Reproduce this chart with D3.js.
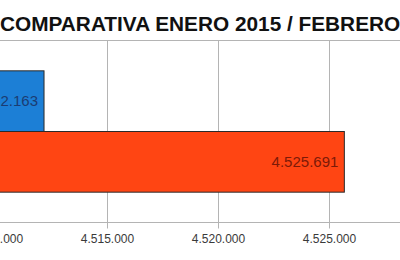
<!DOCTYPE html>
<html lang="es">
<head>
<meta charset="UTF-8">
<title>Comparativa enero 2015 / febrero</title>
<script src="https://d3js.org/d3.v7.min.js"></script>
<style>
  body { margin: 0; background: #fff; overflow: hidden; }
  svg { display: block; font-family: "Liberation Sans", Arial, sans-serif; }
</style>
</head>
<body>
<div id="chart"></div>
<script>
// datos
const periodos = ["Enero 2015", "Febrero"];
const valores = [4512163, 4525691];
const colores = ["#1c7fd6", "#ff4513"];
const colorTexto = ["#1b3c72", "#7c1a08"];
const ticks = [4510000, 4515000, 4520000, 4525000];

const w = 400, h = 260;
const yTop = 40, yBottom = 222;

const fmt = v => d3.format(",")(v).replace(/,/g, ".");

const svg = d3.select("#chart").append("svg")
  .attr("width", w).attr("height", h);

const x = d3.scaleLinear()
  .domain([4510000, 4530000])
  .range([-4, 440]);

const y = d3.scaleBand()
  .domain(periodos)
  .range([yTop, yBottom])
  .paddingInner(0)
  .paddingOuter(0.5);

// lineas de rejilla verticales
svg.append("g")
  .selectAll("line")
  .data(ticks)
  .join("line")
  .attr("x1", d => Math.round(x(d)) + 0.5)
  .attr("x2", d => Math.round(x(d)) + 0.5)
  .attr("y1", yTop)
  .attr("y2", yBottom + 6)
  .attr("stroke", "#b4b4b4");

// borde superior
svg.append("line")
  .attr("x1", 0).attr("x2", w)
  .attr("y1", yTop + 0.5).attr("y2", yTop + 0.5)
  .attr("stroke", "#b4b4b4");

// eje x
const xAxis = d3.axisBottom(x)
  .tickValues(ticks)
  .tickSize(6)
  .tickFormat(fmt);

const gx = svg.append("g")
  .attr("transform", "translate(0," + (yBottom + 0.5) + ")")
  .call(xAxis);
gx.select(".domain").attr("stroke", "#b4b4b4").attr("d", "M0,0H" + w);
gx.selectAll(".tick line").attr("stroke", "#b4b4b4");
gx.selectAll(".tick text")
  .attr("y", 12)
  .attr("fill", "#3a3a3a")
  .style("font-size", "12px")
  .style("font-family", "'Liberation Sans', Arial, sans-serif");

// barras
svg.append("g")
  .selectAll("rect")
  .data(valores)
  .join("rect")
  .attr("x", x(4510000))
  .attr("y", (d, i) => y(periodos[i]) + 0.5)
  .attr("width", d => x(d) - x(4510000))
  .attr("height", y.bandwidth())
  .attr("fill", (d, i) => colores[i])
  .attr("stroke", "#2a2a2a")
  .attr("stroke-width", 1);

// etiquetas de valor
svg.append("g")
  .selectAll("text")
  .data(valores)
  .join("text")
  .attr("x", d => x(d) - 6)
  .attr("y", (d, i) => y(periodos[i]) + y.bandwidth() / 2)
  .attr("dy", "0.35em")
  .attr("text-anchor", "end")
  .attr("fill", (d, i) => colorTexto[i])
  .style("font-size", "15px")
  .text(fmt);

// titulo
svg.append("text")
  .attr("x", 0)
  .attr("y", 31)
  .attr("font-weight", "bold")
  .style("font-size", "20.8px")
  .attr("fill", "#111")
  .text("COMPARATIVA ENERO 2015 / FEBRERO");
</script>
</body>
</html>
